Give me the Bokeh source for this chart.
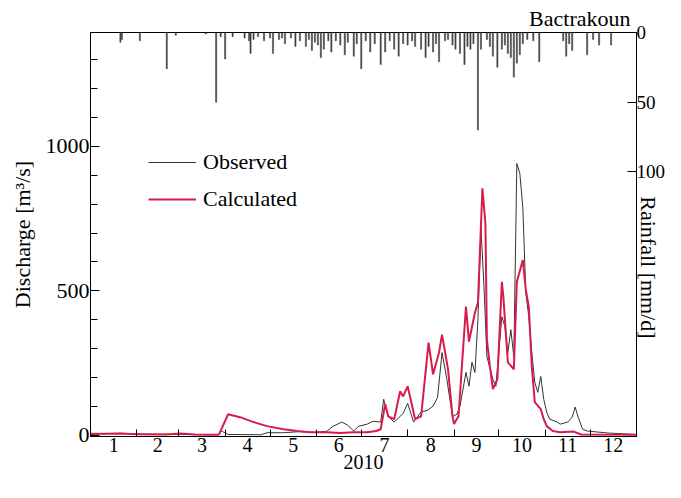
from bokeh.plotting import figure
from bokeh.models import (Range1d, LinearAxis, FixedTicker, Legend, LegendItem)
from bokeh.embed import file_html
from bokeh.resources import INLINE

# ---------------- data ----------------
month_labels = ["1", "2", "3", "4", "5", "6", "7", "8", "9", "10", "11", "12"]
month_lengths = [31, 28, 31, 30, 31, 30, 31, 31, 30, 31, 30, 31]
year_label = "2010"
station = "Bactrakoun"

obs_day = [0, 10, 20, 31, 45, 60, 80, 86, 87, 89, 92, 114, 118, 129, 140, 149, 158, 162,
           168, 172, 176, 179, 185, 189, 194, 196, 199, 203, 206, 209, 212, 216, 221, 225,
           229, 232, 235, 238, 242, 245, 247, 251, 253, 255, 257, 259, 261, 263, 265, 269,
           271, 275, 277, 279, 281, 283, 285, 287, 289, 291, 293, 295, 297, 299, 301, 303,
           305, 307, 312, 314, 319, 322, 324, 326, 329, 332, 346, 361, 365]
obs_q = [6, 5, 6, 4, 3, 2, 1, 2, 15, 10, 2, 1, 8, 8, 12, 9, 13, 30,
         45, 34, 14, 30, 38, 48, 45, 124, 65, 45, 60, 75, 110, 45, 80, 85,
         100, 130, 286, 200, 65, 72, 100, 217, 169, 252, 217, 400, 720, 520, 272, 193,
         169, 410, 376, 286, 365, 272, 941, 907, 790, 493, 410, 286, 183, 148, 203, 124,
         79, 55, 45, 38, 45, 62, 97, 62, 20, 14, 7, 3, 2]

calc_day = [0, 20, 31, 50, 60, 70, 85, 86, 92, 100, 109, 118, 129, 138, 147, 158, 167,
            176, 185, 191, 194, 197, 199, 203, 207, 209, 212, 214, 217, 221, 226, 229, 233,
            235, 239, 242, 243, 246, 251, 253, 257, 259, 262, 264, 265, 267, 269, 272, 275,
            276, 279, 283, 285, 289, 291, 293, 295, 297, 301, 303, 305, 309, 314, 323, 328,
            365]
calc_q = [4, 5, 3, 2, 5, 2, 1, 3, 72, 62, 45, 31, 20, 14, 10, 10, 7,
          10, 10, 14, 20, 107, 65, 55, 152, 134, 169, 124, 55, 65, 320, 210, 286,
          348, 228, 65, 38, 65, 445, 324, 424, 459, 855, 734, 331, 238, 159, 193, 531,
          479, 252, 228, 531, 607, 503, 445, 238, 114, 90, 55, 31, 14, 10, 12, 2,
          1]

rain_day = [20, 21, 33, 51, 57, 77, 84, 87, 90, 95, 103, 106, 107, 109, 112, 116, 120,
            122, 126, 128, 130, 134, 137, 140, 144, 146, 148, 150, 152, 154, 156, 159,
            161, 164, 167, 170, 172, 176, 178, 181, 184, 187, 190, 194, 197, 200, 203,
            206, 209, 212, 215, 217, 221, 224, 226, 229, 231, 233, 237, 239, 242, 244,
            247, 250, 252, 254, 256, 259, 261, 265, 267, 269, 272, 275, 277, 279, 281,
            283, 285, 287, 289, 292, 296, 300, 316, 318, 320, 322, 332, 336, 340, 348]
rain_mm = [7, 5, 6, 26, 2, 1, 50, 3, 19, 3, 4, 6, 15, 5, 3, 6, 4,
           15, 5, 4, 8, 4, 10, 6, 10, 5, 13, 7, 9, 18, 12, 6,
           14, 6, 9, 16, 7, 17, 8, 26, 6, 14, 8, 23, 14, 6, 12,
           17, 8, 9, 6, 10, 12, 18, 10, 14, 8, 21, 6, 5, 9, 12,
           15, 23, 10, 12, 8, 70, 12, 5, 10, 17, 25, 12, 9, 15, 18,
           32, 22, 16, 8, 5, 6, 21, 6, 17, 8, 13, 16, 5, 9, 9]

# ---------------- derived tick positions ----------------
bounds = [0]
for m in month_lengths:
    bounds.append(bounds[-1] + m)
centers = [(bounds[i] + bounds[i + 1]) / 2 for i in range(12)]

FONT = "Liberation Serif"

p = figure(width=665, height=482, output_backend="svg", toolbar_location=None,
           x_range=Range1d(0, 365), y_range=Range1d(-5, 1395),
           min_border_left=90, min_border_right=29, min_border_top=32, min_border_bottom=46)
p.background_fill_color = "white"
p.border_fill_color = "white"
p.outline_line_color = "black"
p.outline_line_width = 1
p.xgrid.visible = False
p.ygrid.visible = False

# station name above the frame, right aligned
p.title.text = station
p.title.align = "right"
p.title.text_font = FONT
p.title.text_font_size = "22px"
p.title.text_font_style = "normal"
p.title.text_color = "black"
p.title.standoff = 3
p.title.offset = 6

p.extra_y_ranges = {"rain": Range1d(start=290, end=0)}

# rainfall bars hanging from the top
p.vbar(x=rain_day, top=rain_mm, bottom=0, width=0.8, y_range_name="rain",
       fill_color="#404040", line_color="#404040", line_width=0.5)

obs = p.line(obs_day, obs_q, line_color="#333333", line_width=1)
calc = p.line(calc_day, calc_q, line_color="#d81b4a", line_width=2)

# x axis
xa = p.xaxis[0]
xa.ticker = FixedTicker(ticks=centers, minor_ticks=bounds)
xa.major_label_overrides = {c: lab for c, lab in zip(centers, month_labels)}
xa.major_tick_in = 0
xa.major_tick_out = 0
xa.minor_tick_in = 7
xa.minor_tick_out = 0
xa.major_label_standoff = 1
xa.axis_label = year_label
xa.axis_label_standoff = 0
xa.major_label_text_font_size = "20px"
xa.axis_label_text_font_size = "20px"

# left axis
ya = p.yaxis[0]
ya.ticker = FixedTicker(ticks=[0, 500, 1000], minor_ticks=list(range(100, 1400, 100)))
ya.major_tick_in = 9
ya.major_tick_out = 0
ya.minor_tick_in = 7
ya.minor_tick_out = 0
ya.major_label_standoff = 1
ya.axis_label = "Discharge [m³/s]"
ya.axis_label_standoff = 8
ya.major_label_text_font_size = "22px"
ya.axis_label_text_font_size = "22px"

# right axis (rainfall, inverted); its title sits below the tick labels
ra = LinearAxis(y_range_name="rain", ticker=FixedTicker(ticks=[0, 50, 100]))
ra.major_tick_in = 9
ra.major_tick_out = 0
ra.minor_tick_in = 0
ra.minor_tick_out = 0
ra.major_label_standoff = 0
ra.axis_label = "\u00a0" * 12 + "Rainfall [mm/d]"
ra.axis_label_standoff = -32
ra.major_label_text_font_size = "19px"
ra.axis_label_text_font_size = "22px"
p.add_layout(ra, "right")

for ax in (xa, ya, ra):
    ax.axis_line_color = "black"
    ax.major_tick_line_color = "black"
    ax.minor_tick_line_color = "black"
    ax.major_label_text_font = FONT
    ax.major_label_text_color = "black"
    ax.axis_label_text_font = FONT
    ax.axis_label_text_font_style = "normal"
    ax.axis_label_text_color = "black"

legend = Legend(items=[LegendItem(label="Observed", renderers=[obs]),
                       LegendItem(label="Calculated", renderers=[calc])],
                location=(58, 224), border_line_color=None, background_fill_alpha=0,
                padding=0, margin=0, glyph_width=48, glyph_height=24, label_height=24,
                spacing=11, label_standoff=7, label_text_font=FONT,
                label_text_font_size="22px", label_text_color="black")
p.add_layout(legend)

open("out.html", "w").write(file_html(p, INLINE))
